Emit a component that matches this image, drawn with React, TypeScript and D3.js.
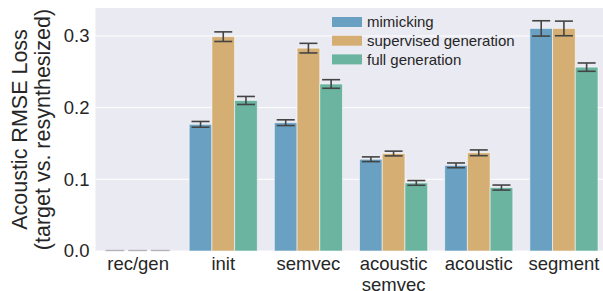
import React, { useEffect, useRef } from "react";
import * as d3 from "d3";

const categories = ["rec/gen", "init", "semvec", "acoustic\nsemvec", "acoustic", "segment"];
const seriesNames = ["mimicking", "supervised generation", "full generation"];
const seriesColors = ["#6aa0c1", "#d4ae73", "#6bb5a0"];

// loss values per category, one array per series
const mimicking = [0, 0.1767, 0.179, 0.128, 0.1195, 0.3105];
const supervised = [0, 0.299, 0.283, 0.136, 0.137, 0.3105];
const fullGen = [0, 0.21, 0.233, 0.095, 0.0885, 0.2565];

// half-width of the error bars
const mimickingErr = [0, 0.004, 0.004, 0.0033, 0.0033, 0.0107];
const supervisedErr = [0, 0.0067, 0.0067, 0.0033, 0.004, 0.0102];
const fullGenErr = [0, 0.0056, 0.006, 0.0033, 0.0035, 0.0058];

const yTicks = [0, 0.1, 0.2, 0.3];

const W = 603;
const H = 291;

const App = () => {
  const ref = useRef<SVGSVGElement>(null);

  useEffect(() => {
    const svg = d3.select(ref.current);
    svg.selectAll("*").remove();

    const left = 95.5;
    const right = 606.5;
    const top = 8;
    const bottom = 251;
    const font = "'Liberation Sans', Arial, sans-serif";
    const textColor = "#262626";

    const x = d3.scaleBand().domain(categories).range([left, right]);
    const xs = d3
      .scaleBand()
      .domain(seriesNames)
      .range([x.bandwidth() * 0.1, x.bandwidth() * 0.9]);
    const y = d3.scaleLinear().domain([0, 0.339]).range([bottom, top]);

    svg
      .append("rect")
      .attr("x", left)
      .attr("y", top)
      .attr("width", right - left)
      .attr("height", bottom - top)
      .attr("fill", "#eaeaf2");

    svg
      .selectAll("line.grid")
      .data(yTicks)
      .join("line")
      .attr("class", "grid")
      .attr("x1", left)
      .attr("x2", right)
      .attr("y1", (d) => y(d))
      .attr("y2", (d) => y(d))
      .attr("stroke", "#fff")
      .attr("stroke-width", 1);

    const values = [mimicking, supervised, fullGen];
    const errs = [mimickingErr, supervisedErr, fullGenErr];

    const rows = categories.flatMap((c, i) =>
      seriesNames.map((s, j) => ({
        cat: c,
        series: s,
        color: seriesColors[j],
        value: values[j][i],
        err: errs[j][i],
      }))
    );

    const g = svg
      .selectAll("g.bar")
      .data(rows)
      .join("g")
      .attr("class", "bar")
      .attr("transform", (d) => `translate(${x(d.cat)! + xs(d.series)!},0)`);

    g.filter((d) => d.value > 0)
      .append("rect")
      .attr("x", 0)
      .attr("width", xs.bandwidth())
      .attr("y", (d) => y(d.value))
      .attr("height", (d) => bottom - y(d.value))
      .attr("fill", (d) => d.color)
      .attr("stroke", "rgba(255,255,255,0.55)")
      .attr("stroke-width", 1);

    // zero-height bars show only a thin grey line
    g.filter((d) => d.value === 0)
      .append("line")
      .attr("x1", 1.5)
      .attr("x2", xs.bandwidth() - 2.5)
      .attr("y1", bottom - 0.5)
      .attr("y2", bottom - 0.5)
      .attr("stroke", "#b4b4b8")
      .attr("stroke-width", 1.4);

    const cw = 9;
    const eb = g.filter((d) => d.value > 0);
    const mid = xs.bandwidth() / 2;
    eb.append("line")
      .attr("x1", mid)
      .attr("x2", mid)
      .attr("y1", (d) => y(d.value + d.err))
      .attr("y2", (d) => y(d.value - d.err))
      .attr("stroke", "#444")
      .attr("stroke-width", 1.6);
    [1, -1].forEach((sgn) => {
      eb.append("line")
        .attr("x1", mid - cw)
        .attr("x2", mid + cw)
        .attr("y1", (d) => y(d.value + sgn * d.err))
        .attr("y2", (d) => y(d.value + sgn * d.err))
        .attr("stroke", "#444")
        .attr("stroke-width", 1.6);
    });

    // y tick labels
    svg
      .selectAll("text.ytick")
      .data(yTicks)
      .join("text")
      .attr("class", "ytick")
      .attr("x", left - 6)
      .attr("y", (d) => y(d))
      .attr("dy", "0.35em")
      .attr("text-anchor", "end")
      .style("font-family", font)
      .style("font-size", "18.5px")
      .style("fill", textColor)
      .text((d) => d3.format(".1f")(d));

    // x tick labels (multi-line)
    const xt = svg
      .selectAll("text.xtick")
      .data(categories)
      .join("text")
      .attr("class", "xtick")
      .attr("x", (d) => x(d)! + x.bandwidth() / 2)
      .attr("y", bottom + 19)
      .attr("text-anchor", "middle")
      .style("font-family", font)
      .style("font-size", "18.5px")
      .style("fill", textColor);
    xt.selectAll("tspan")
      .data((d) => d.split("\n").map((t, k) => ({ t, k, cx: x(d)! + x.bandwidth() / 2 })))
      .join("tspan")
      .attr("x", (d) => d.cx)
      .attr("dy", (d) => (d.k === 0 ? 0 : 21))
      .text((d) => d.t);

    // y axis label
    const yl = svg
      .append("text")
      .attr("transform", `translate(0,${(top + bottom) / 2}) rotate(-90)`)
      .attr("text-anchor", "middle")
      .style("font-family", font)
      .style("font-size", "21.5px")
      .style("fill", textColor);
    yl.append("tspan").attr("x", 0).attr("y", 27).text("Acoustic RMSE Loss");
    yl.append("tspan").attr("x", 0).attr("y", 50).text("(target vs. resynthesized)");

    // legend
    const lg = svg
      .selectAll("g.legend")
      .data(seriesNames)
      .join("g")
      .attr("class", "legend")
      .attr("transform", (d, i) => `translate(332,${22 + i * 18.7})`);
    lg.append("rect")
      .attr("x", 0)
      .attr("y", -5)
      .attr("width", 30)
      .attr("height", 10)
      .attr("fill", (d, i) => seriesColors[i]);
    lg.append("text")
      .attr("x", 35)
      .attr("y", 0)
      .attr("dy", "0.35em")
      .style("font-family", font)
      .style("font-size", "15px")
      .style("fill", textColor)
      .text((d) => d);
  }, []);

  return (
    <div style={{ position: "absolute", left: 0, top: 0 }}>
      <svg ref={ref} width={W} height={H} style={{ display: "block", background: "#fff" }} />
    </div>
  );
};

export default App;
